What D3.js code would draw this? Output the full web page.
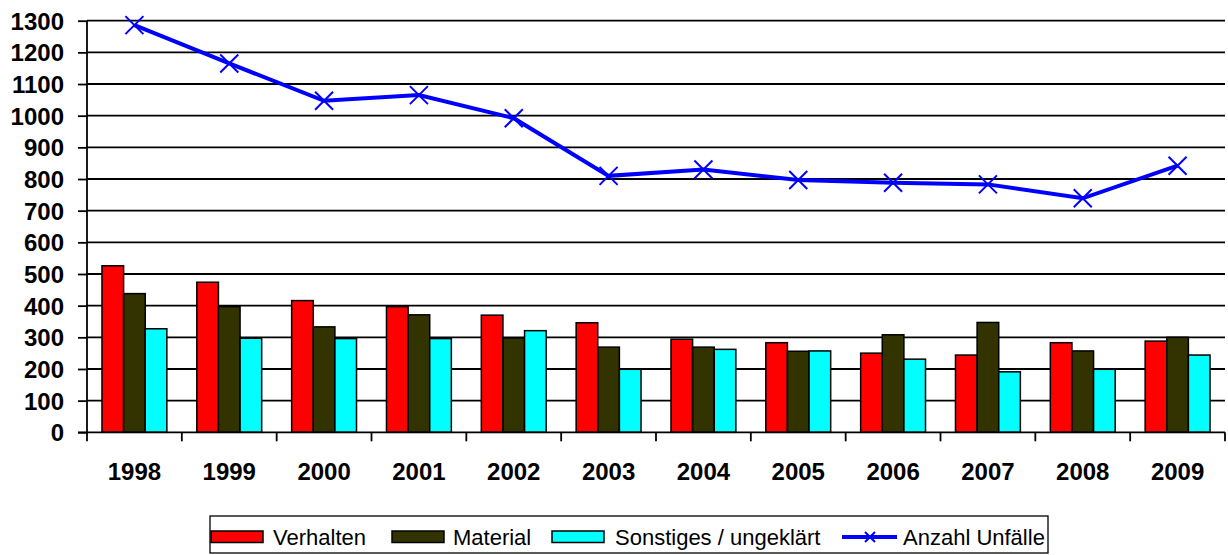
<!DOCTYPE html>
<html><head><meta charset="utf-8">
<script src="https://cdn.jsdelivr.net/npm/d3@7"></script>
<style>body{margin:0;background:#fff}svg{display:block}</style>
</head><body>
<svg id="c" width="1228" height="555"></svg>
<script>
const years = ["1998","1999","2000","2001","2002","2003","2004","2005","2006","2007","2008","2009"];
const verhalten = [526,474,416,397,370,346,294,283,250,244,283,288];
const material  = [438,397,333,371,298,269,269,256,308,347,257,300];
const sonstiges = [327,297,296,296,321,199,262,257,231,191,199,244];
const unfaelle  = [1286,1165,1047,1065,992,810,830,797,788,783,739,842];
const yTicks = [0,100,200,300,400,500,600,700,800,900,1000,1100,1200,1300];
const seriesNames = ["Verhalten","Material","Sonstiges / ungeklärt"];
const lineName = "Anzahl Unfälle";
const colors = ["#FF0000","#333300","#00FFFF"];
const lineColor = "#0000FF";

const svg = d3.select("#c");
const L = 87, R = 1225, T = 20.7, B = 432.3;
const x = d3.scaleBand().domain(years).range([L, R]).paddingInner(0.316).paddingOuter(0.158);
const y = d3.scaleLinear().domain([0,1300]).range([B, T]);
const font = "'Liberation Sans', Arial, sans-serif";

// gridlines
svg.append("g").selectAll("line").data(yTicks.slice(1)).join("line")
  .attr("x1", L).attr("x2", R).attr("y1", d=>y(d)).attr("y2", d=>y(d))
  .attr("stroke","#000").attr("stroke-width",1.8);

// bars
const sets = [verhalten, material, sonstiges];
const xs = d3.scaleBand().domain([0,1,2]).range([0, x.bandwidth()]);
sets.forEach((vals, si) => {
  svg.append("g").selectAll("rect").data(vals).join("rect")
    .attr("x", (d,i)=>x(years[i]) + xs(si))
    .attr("y", d=>y(d))
    .attr("width", xs.bandwidth())
    .attr("height", d=>B - y(d))
    .attr("fill", colors[si]).attr("stroke","#000").attr("stroke-width",1.5);
});

// y axis
const yAxis = d3.axisLeft(y).tickValues(yTicks).tickFormat(d3.format("d")).tickSize(9).tickPadding(14);
const gy = svg.append("g").attr("transform",`translate(${L},0)`).call(yAxis);
gy.select(".domain").attr("stroke","#000").attr("stroke-width",1.8).attr("d",`M0,${T}V${B}`);
gy.selectAll(".tick line").attr("stroke","#000").attr("stroke-width",1.8);
gy.selectAll(".tick text").attr("font-family",font).attr("font-weight","bold")
  .attr("font-size","24px").attr("fill","#000").attr("dy","0.35em");

// x axis
const gx = svg.append("g").attr("transform",`translate(0,${B})`);
gx.append("line").attr("x1",L-9).attr("x2",R).attr("y1",0).attr("y2",0)
  .attr("stroke","#000").attr("stroke-width",1.8);
const bounds = years.map(yy=>x(yy)-x.step()*x.paddingInner()/2).concat([R]);
bounds[0] = L;
gx.selectAll("line.t").data(bounds).join("line").attr("class","t")
  .attr("x1",d=>d).attr("x2",d=>d).attr("y1",0).attr("y2",9)
  .attr("stroke","#000").attr("stroke-width",1.8);
gx.selectAll("text").data(years).join("text")
  .attr("x", d=>x(d)+x.bandwidth()/2).attr("y", 48)
  .attr("text-anchor","middle").attr("font-family",font).attr("font-weight","bold")
  .attr("font-size","24px").attr("fill","#000").text(d=>d);

// line
const cx = i => x(years[i]) + x.bandwidth()/2;
svg.append("path").datum(unfaelle)
  .attr("d", d3.line().x((d,i)=>cx(i)).y(d=>y(d)))
  .attr("fill","none").attr("stroke",lineColor).attr("stroke-width",4);
const mk = 9;
svg.append("g").selectAll("path").data(unfaelle).join("path")
  .attr("d",(d,i)=>{const X=cx(i),Y=y(d);return `M${X-mk},${Y-mk}L${X+mk},${Y+mk}M${X-mk},${Y+mk}L${X+mk},${Y-mk}`;})
  .attr("stroke",lineColor).attr("stroke-width",2).attr("fill","none");

// legend
const lg = svg.append("g");
lg.append("rect").attr("x",210).attr("y",516).attr("width",838).attr("height",37)
  .attr("fill","#fff").attr("stroke","#000").attr("stroke-width",1.3);
const items = [
  {sx:211, tx:273, name:seriesNames[0], c:colors[0]},
  {sx:392, tx:453, name:seriesNames[1], c:colors[1]},
  {sx:552, tx:615, name:seriesNames[2], c:colors[2]}
];
items.forEach(it=>{
  lg.append("rect").attr("x",it.sx).attr("y",531).attr("width",52).attr("height",11.5)
    .attr("fill",it.c).attr("stroke","#000").attr("stroke-width",1.5);
  lg.append("text").attr("x",it.tx).attr("y",545).attr("font-family",font)
    .attr("font-size","22px").attr("fill","#000").text(it.name);
});
lg.append("line").attr("x1",842).attr("x2",897).attr("y1",537).attr("y2",537)
  .attr("stroke",lineColor).attr("stroke-width",4);
lg.append("path").attr("d","M865,532L875,542M865,542L875,532")
  .attr("stroke",lineColor).attr("stroke-width",2);
lg.append("text").attr("x",903).attr("y",545).attr("font-family",font)
  .attr("font-size","22px").attr("fill","#000").text(lineName);
</script>
</body></html>
